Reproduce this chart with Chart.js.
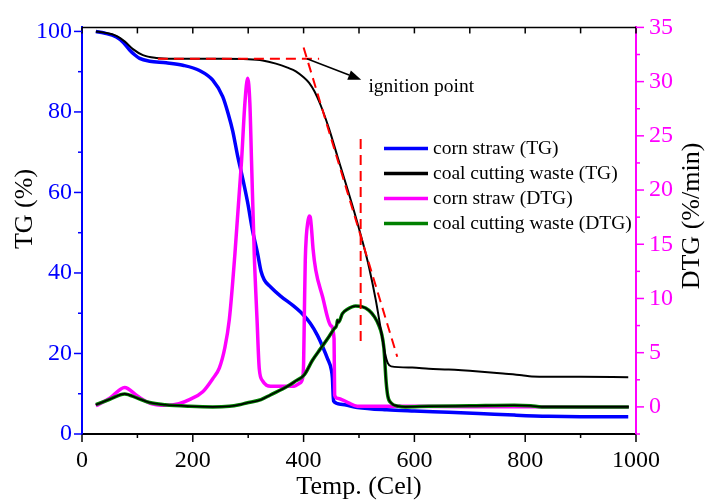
<!DOCTYPE html>
<html lang="en">
  <head>
    <meta charset="UTF-8" />
    <title>TG / DTG</title>
    <script src="https://cdn.jsdelivr.net/npm/chart.js"></script>
    <style>
      html, body { margin: 0; padding: 0; background: #fff; }
    </style>
  </head>
  <body>
    <canvas id="tg" width="707" height="500"></canvas>
    <script>
      // temperatures (Cel) and values
      const cornTgTemp = [25, 40, 62, 75, 86, 95, 104, 122, 152, 182, 212, 236, 254, 264, 272, 281, 290, 299, 308, 317, 323, 329, 340, 359, 380, 398, 412, 425, 435, 443, 450, 452, 454, 467, 497, 550, 600, 662, 716, 780, 842, 900, 986];
      const cornTg = [100, 99.6, 98.6, 97.2, 95.4, 94.2, 93.3, 92.6, 92.2, 91.6, 90.3, 87.9, 83.8, 79.5, 75.3, 69, 63.5, 57.5, 50.4, 44.8, 40.5, 38.3, 36.6, 34.2, 32, 29.8, 27.5, 24.5, 21.5, 18.8, 16, 13.9, 8.2, 7.4, 6.6, 6.0, 5.7, 5.4, 5.1, 4.7, 4.4, 4.3, 4.3];

      const coalTgTemp = [25, 40, 62, 78, 92, 110, 134, 164, 200, 250, 300, 326, 350, 371, 386, 400, 410, 420, 431, 446, 461, 476, 491, 506, 518, 530, 540, 547, 552, 558, 596, 626, 662, 716, 760, 794, 812, 900, 986];
      const coalTg = [100, 99.7, 98.9, 97.4, 95.6, 94.1, 93.4, 93.2, 93.2, 93.2, 93.1, 92.8, 92.0, 91.0, 90.1, 88.6, 87.2, 85.0, 81.6, 75.8, 69.0, 62.3, 55.4, 48.0, 41.5, 33.5, 25.5, 20.0, 17.6, 16.8, 16.5, 16.2, 16.0, 15.5, 15.0, 14.6, 14.3, 14.2, 14.1];

      const cornDtgTemp = [25, 50, 77, 100, 122, 150, 175, 194, 218, 236, 248, 258, 266, 276, 288, 294, 299, 303, 306, 311, 316, 320, 326, 333, 341, 383, 393, 398, 400, 401.5, 403, 405, 407.5, 410, 412, 414.5, 417, 422, 434, 449, 455, 456, 461, 480, 497, 550, 600, 700, 800, 900, 987];
      const cornDtg = [0.1, 0.8, 1.8, 1.0, 0.35, 0.15, 0.3, 0.67, 1.4, 2.6, 3.6, 5.5, 8.1, 14.1, 22.7, 28, 30.3, 28, 22.7, 14, 8, 3.5, 2.4, 2.0, 1.9, 1.9, 2.2, 2.6, 4, 9, 13.5, 15.8, 17.0, 17.6, 17.5, 16.3, 14.6, 12.6, 10.2, 7.5, 6.3, 1.1, 0.8, 0.4, 0.06, 0.05, 0.05, 0.02, 0.02, 0, 0];

      const coalDtgTemp = [25, 50, 77, 100, 122, 150, 194, 236, 266, 284, 297, 323, 340, 371, 386, 401, 416, 431, 446, 455, 460, 461, 463, 470, 479, 494, 505, 518, 528, 536, 541, 545, 549, 552, 558, 572, 584, 626, 700, 780, 810, 830, 900, 987];
      const coalDtg = [0.2, 0.7, 1.2, 0.8, 0.4, 0.2, 0.06, 0, 0.06, 0.2, 0.36, 0.67, 1.1, 1.9, 2.4, 2.94, 4.3, 5.4, 6.5, 7.2, 7.6, 8.0, 7.8, 8.6, 9.0, 9.3, 9.25, 8.9, 8.3, 7.5, 6.7, 5.4, 2.3, 1.0, 0.36, 0.06, 0, 0.06, 0.1, 0.15, 0.1, 0, 0, 0];

      // ignition point construction (Temp, TG)
      const flatLineTemp = [137, 428];
      const flatLineTg = [93.2, 93.2];
      const tangentTemp = [400, 569];
      const tangentTg = [96, 19.2];
      const dropLineTemp = [503, 503];
      const dropLineTg = [73.3, 22.4];
      const arrowTemp = [406, 504];
      const arrowTg = [93.2, 88];
      const noteText = "ignition point";
      const noteAt = [517, 86.3];

      // tick labels and axis titles
      const tempTicks = [0, 200, 400, 600, 800, 1000];
      const tgTicks = [0, 20, 40, 60, 80, 100];
      const dtgTicks = [0, 5, 10, 15, 20, 25, 30, 35];
      const xTitle = "Temp. (Cel)";
      const yTitle = "TG (%)";
      const y2Title = "DTG (%/min)";

      const pts = (xs, ys) => xs.map((x, i) => ({ x: x, y: ys[i] }));

      const BLUE = "#0000ff";
      const MAGENTA = "#ff00ff";
      const SERIF = "'Liberation Serif', 'Times New Roman', serif";
      Chart.defaults.font.family = SERIF;

      const line = (label, data, color, width, axis, order, extra) => ({
        label: label,
        data: data,
        borderColor: color,
        backgroundColor: color,
        borderWidth: width,
        yAxisID: axis,
        order: order,
        pointRadius: 0,
        pointHoverRadius: 0,
        fill: false,
        cubicInterpolationMode: "monotone",
        ...extra,
      });

      const dashed = { borderDash: [10, 6], cubicInterpolationMode: "default", tension: 0, noLegend: true };

      const datasets = [
        line("corn straw (TG)", pts(cornTgTemp, cornTg), BLUE, 3.5, "y", 6),
        line("coal cutting waste (TG)", pts(coalTgTemp, coalTg), "#000000", 2, "y", 3),
        line("corn straw (DTG)", pts(cornDtgTemp, cornDtg), MAGENTA, 3.5, "y2", 5),
        line("coal cutting waste (DTG)", pts(coalDtgTemp, coalDtg), "#008000", 3.5, "y2", 4),
        line("", pts(coalDtgTemp, coalDtg), "#000000", 1.6, "y2", 2, { noLegend: true }),
        line("", pts(flatLineTemp, flatLineTg), "#ff0000", 2, "y", 0, dashed),
        line("", pts(tangentTemp, tangentTg), "#ff0000", 2, "y", 0, dashed),
        line("", pts(dropLineTemp, dropLineTg), "#ff0000", 2, "y", 0, dashed),
      ];

      // frame, tick marks, titles, arrow, note and legend
      const extras = {
        id: "extras",
        afterDraw(chart) {
          const { ctx, chartArea: a, scales } = chart;
          const sx = scales.x, sy = scales.y, sy2 = scales.y2;
          ctx.save();
          const seg = (x1, y1, x2, y2, color, w) => {
            ctx.strokeStyle = color;
            ctx.lineWidth = w;
            ctx.beginPath();
            ctx.moveTo(x1, y1);
            ctx.lineTo(x2, y2);
            ctx.stroke();
          };
          // top frame
          seg(a.left, a.top, a.right, a.top, "#000", 1.5);
          for (let v = 0; v <= 1000; v += 100) {
            const px = sx.getPixelForValue(v);
            seg(px, a.top, px, a.top + 6, "#000", 1.5);
            const major = v % 200 === 0;
            seg(px, a.bottom, px, a.bottom + (major ? 8 : 4), "#000", 1.5);
          }
          for (let v = 0; v <= 100; v += 10) {
            const py = sy.getPixelForValue(v);
            seg(a.left, py, a.left - (v % 20 === 0 ? 8 : 4), py, BLUE, 1.5);
          }
          for (let v = -2.5; v <= 35; v += 2.5) {
            const py = sy2.getPixelForValue(v);
            seg(a.right, py, a.right + (v % 5 === 0 ? 8 : 4), py, MAGENTA, 1.5);
          }

          // axis titles
          ctx.fillStyle = "#000";
          ctx.font = "26px " + SERIF;
          ctx.textAlign = "center";
          ctx.textBaseline = "middle";
          ctx.fillText(xTitle, (a.left + a.right) / 2, 487);
          ctx.save();
          ctx.translate(25, 209);
          ctx.rotate(-Math.PI / 2);
          ctx.fillText(yTitle, 0, 0);
          ctx.restore();
          ctx.save();
          ctx.translate(692, 216);
          ctx.rotate(-Math.PI / 2);
          ctx.fillText(y2Title, 0, 0);
          ctx.restore();

          // arrow to the note
          const ax1 = sx.getPixelForValue(arrowTemp[0]), ay1 = sy.getPixelForValue(arrowTg[0]);
          const ax2 = sx.getPixelForValue(arrowTemp[1]), ay2 = sy.getPixelForValue(arrowTg[1]);
          const ang = Math.atan2(ay2 - ay1, ax2 - ax1);
          const hl = 13, hw = 5;
          const bx = ax2 - hl * Math.cos(ang), by = ay2 - hl * Math.sin(ang);
          seg(ax1, ay1, bx, by, "#000", 1.5);
          ctx.beginPath();
          ctx.moveTo(ax2, ay2);
          ctx.lineTo(bx + hw * Math.sin(ang), by - hw * Math.cos(ang));
          ctx.lineTo(bx - hw * Math.sin(ang), by + hw * Math.cos(ang));
          ctx.closePath();
          ctx.fill();

          ctx.font = "19.5px " + SERIF;
          ctx.textAlign = "left";
          ctx.fillText(noteText, sx.getPixelForValue(noteAt[0]), sy.getPixelForValue(noteAt[1]));

          // legend
          let row = 0;
          chart.data.datasets.forEach((ds) => {
            if (ds.noLegend) return;
            const ly = 148.5 + row * 25;
            seg(384, ly, 428, ly, ds.borderColor, 3.5);
            ctx.fillStyle = "#000";
            ctx.fillText(ds.label, 433, ly);
            row++;
          });
          ctx.restore();
        },
      };

      new Chart(document.getElementById("tg"), {
        type: "line",
        data: { datasets: datasets },
        plugins: [extras],
        options: {
          responsive: false,
          animation: false,
          events: [],
          layout: { padding: { top: 19, left: 0, right: 0, bottom: 0 } },
          plugins: { legend: { display: false }, tooltip: { enabled: false } },
          scales: {
            x: {
              type: "linear",
              position: "bottom",
              min: 0,
              max: 1000,
              afterBuildTicks: (s) => { s.ticks = tempTicks.map((v) => ({ value: v })); },
              afterFit: (s) => { s.height = 66; },
              ticks: { color: "#000", font: { size: 24 }, padding: 12, maxRotation: 0, autoSkip: false, callback: (v) => String(v) },
              grid: { drawOnChartArea: false, drawTicks: false },
              border: { color: "#000", width: 2 },
            },
            y: {
              position: "left",
              min: 0,
              max: 101,
              afterBuildTicks: (s) => { s.ticks = tgTicks.map((v) => ({ value: v })); },
              afterFit: (s) => { s.width = 82; },
              ticks: { color: BLUE, font: { size: 24 }, padding: 10, callback: (v) => String(v) },
              grid: { drawOnChartArea: false, drawTicks: false },
              border: { color: BLUE, width: 2 },
            },
            y2: {
              position: "right",
              min: -2.5,
              max: 35,
              afterBuildTicks: (s) => { s.ticks = dtgTicks.map((v) => ({ value: v })); },
              afterFit: (s) => { s.width = 71; },
              ticks: { color: MAGENTA, font: { size: 24 }, padding: 13, callback: (v) => String(v) },
              grid: { drawOnChartArea: false, drawTicks: false },
              border: { color: MAGENTA, width: 2 },
            },
          },
        },
      });
    </script>
  </body>
</html>
